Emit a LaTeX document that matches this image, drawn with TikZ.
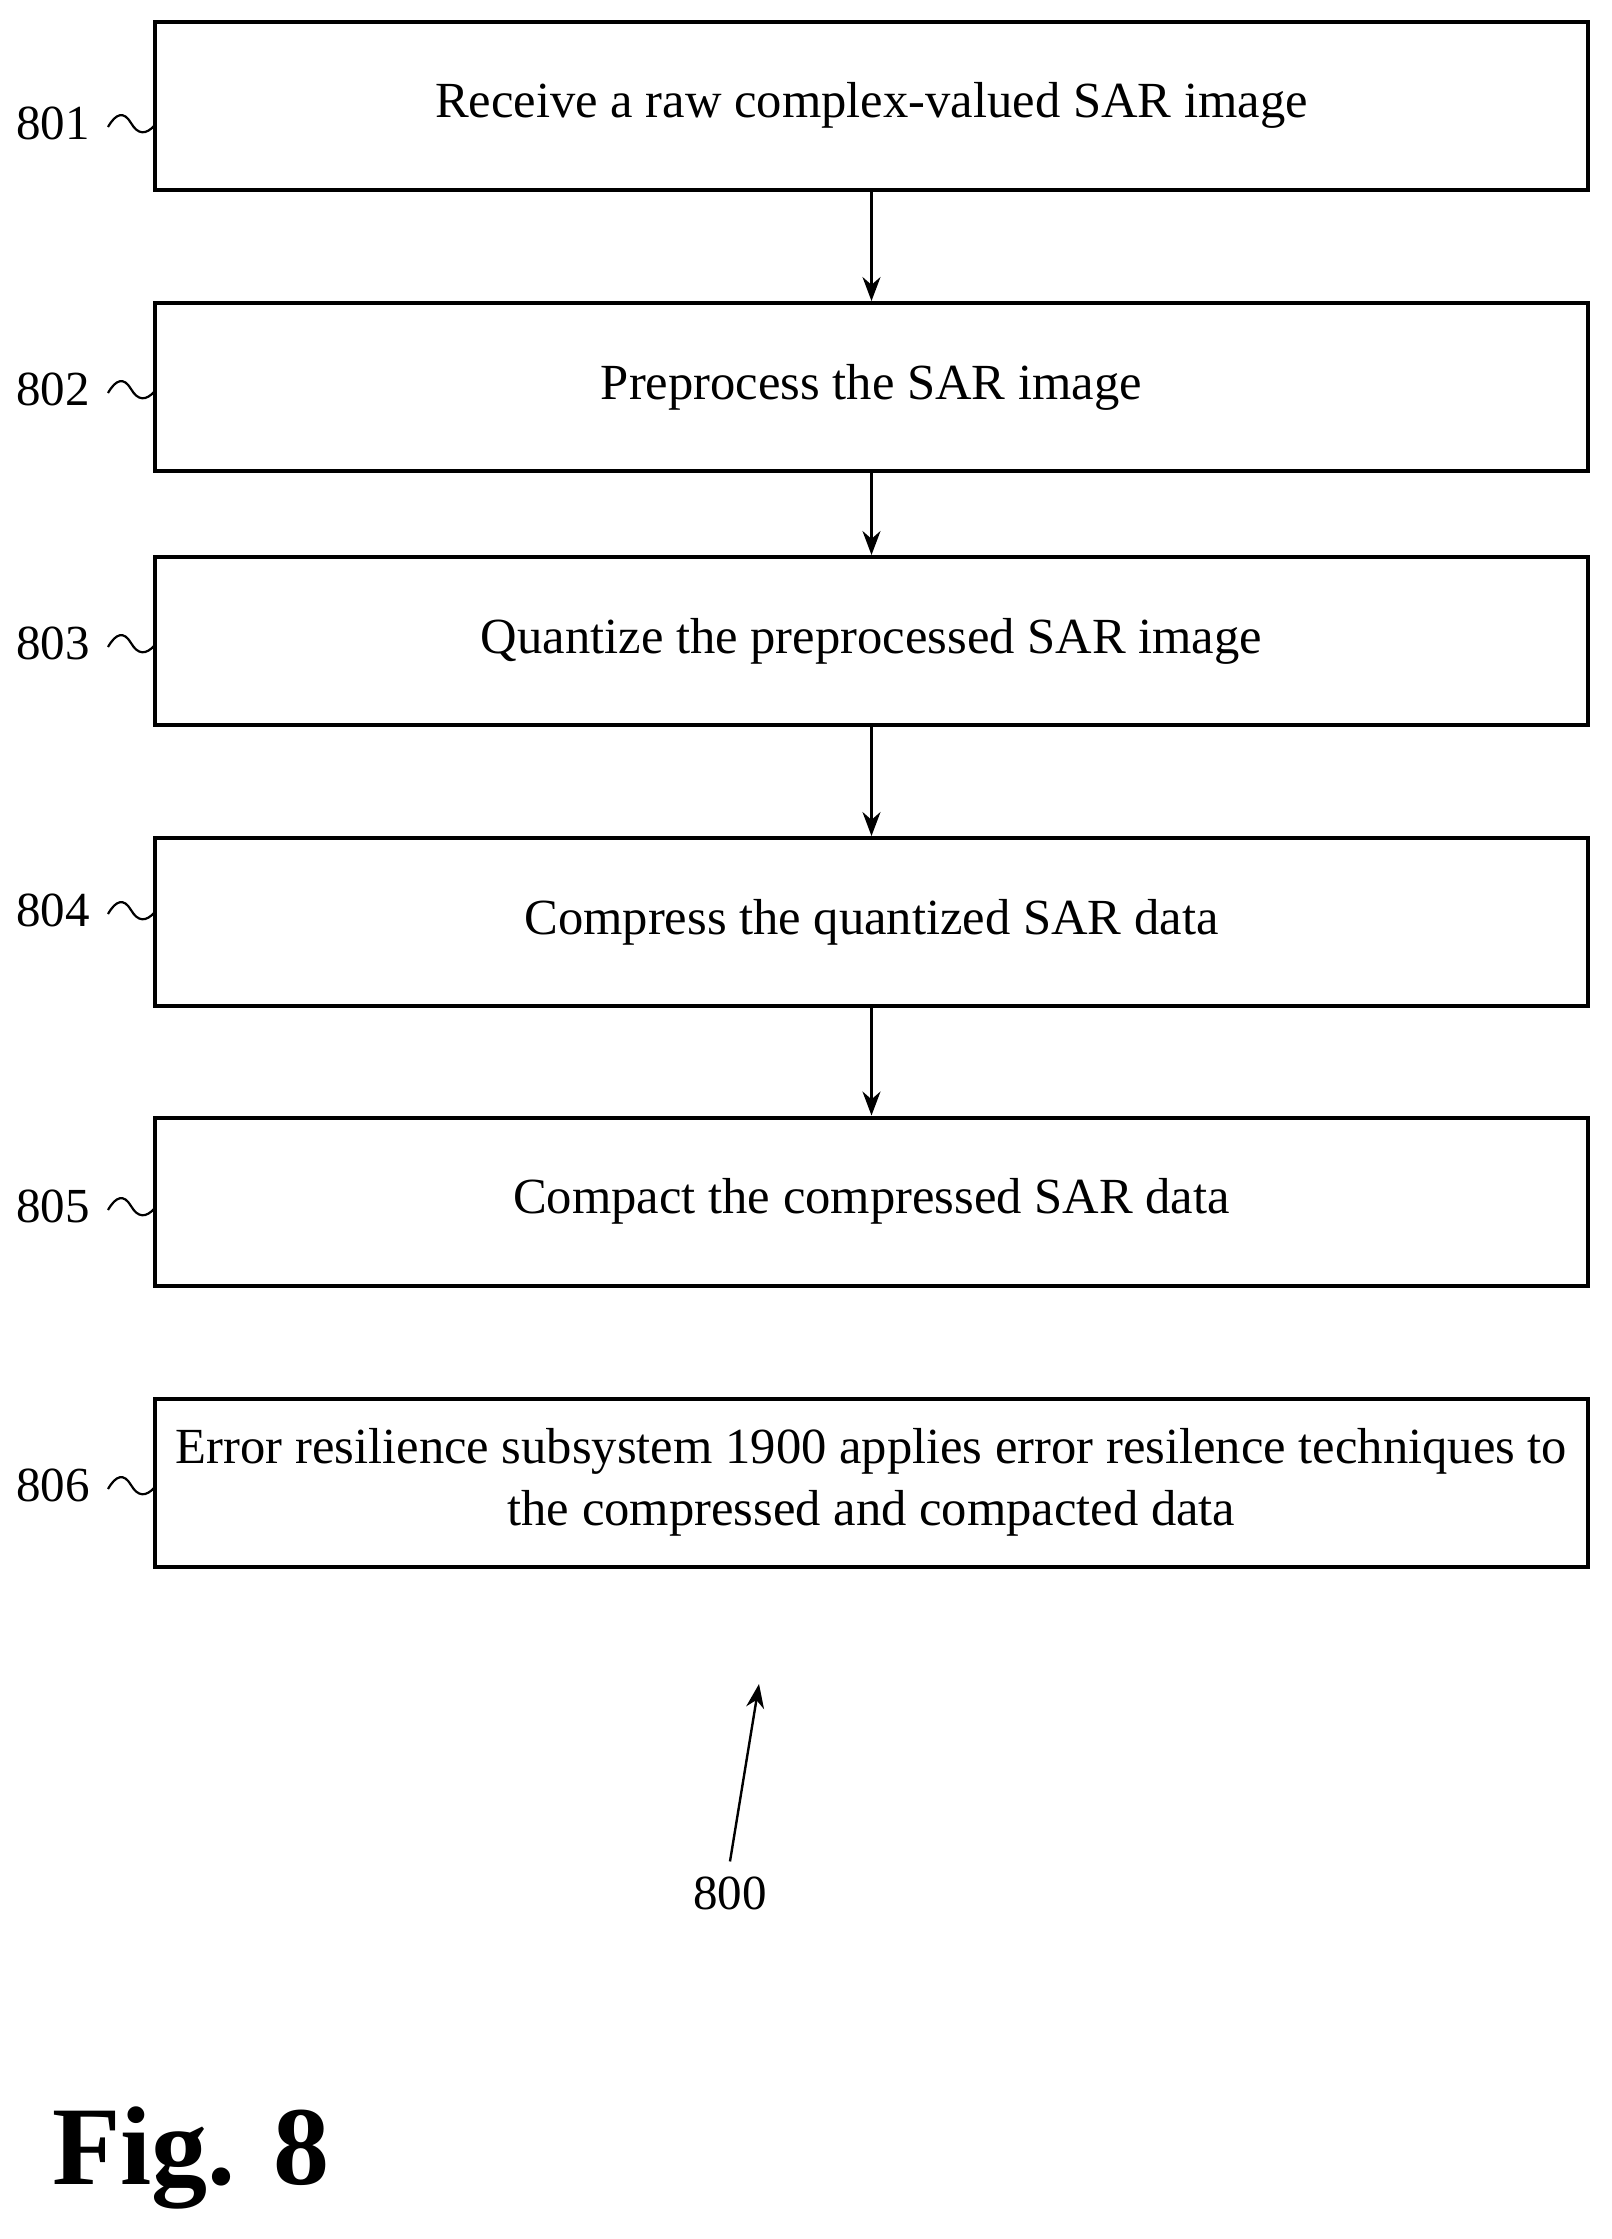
\documentclass[tikz,border=0pt]{standalone}
\usepackage{fontspec}
\setmainfont{Liberation Serif}
\usetikzlibrary{arrows.meta}
\begin{document}
\begin{tikzpicture}[x=0.5pt,y=-0.5pt,
  stepbox/.style={draw,line width=2pt,minimum width=716.5pt,minimum height=84pt,
    align=center,inner sep=0pt,font=\fontsize{25.3}{31}\selectfont},
  num/.style={font=\fontsize{24.5}{28}\selectfont,anchor=east,inner sep=0pt},
  link/.style={-{Stealth[length=12pt,width=9pt]},line width=1.2pt}]
\useasboundingbox (0,0) rectangle (1612,2239);

\node[stepbox] (s801) at (871.5,105.5) {\raisebox{-3pt}{Receive a raw complex-valued SAR image}};
\node[stepbox] (s802) at (871.5,387) {\raisebox{-3pt}{Preprocess the SAR image}};
\node[stepbox] (s803) at (871.5,641) {\raisebox{-3pt}{Quantize the preprocessed SAR image}};
\node[stepbox] (s804) at (871.5,922) {\raisebox{-3pt}{Compress the quantized SAR data}};
\node[stepbox] (s805) at (871.5,1201.5) {\raisebox{-3pt}{Compact the compressed SAR data}};
\node[stepbox] (s806) at (871.5,1482.5) {Error resilience subsystem 1900 applies error resilence techniques to\\the compressed and compacted data};

% reference numerals with tildes
\foreach \n/\y in {801/123,802/389,803/643,804/910,805/1206,806/1485}{
  \node[num] (l\n) at (90,\y) {\n};
  \coordinate (e\n) at (155,\y+2);
  \draw[line width=1.1pt] (108,\y+4) .. controls (116,\y-10) and (124,\y-12) .. (131,\y)
    .. controls (138,\y+12) and (146,\y+12) .. (e\n);
}

\draw[link] (s801) -- (s802);
\draw[link] (s802) -- (s803);
\draw[link] (s803) -- (s804);
\draw[link] (s804) -- (s805);

\node[font=\fontsize{24.5}{28}\selectfont] (n800) at (730,1893) {800};
\coordinate (t800) at (759,1684);
\draw[link] ([yshift=4pt]n800.north) -- (t800);

\node[font=\bfseries\fontsize{56}{60}\selectfont,anchor=west,inner sep=0pt] (fig) at (52,2158) {Fig. 8};
\end{tikzpicture}
\end{document}
